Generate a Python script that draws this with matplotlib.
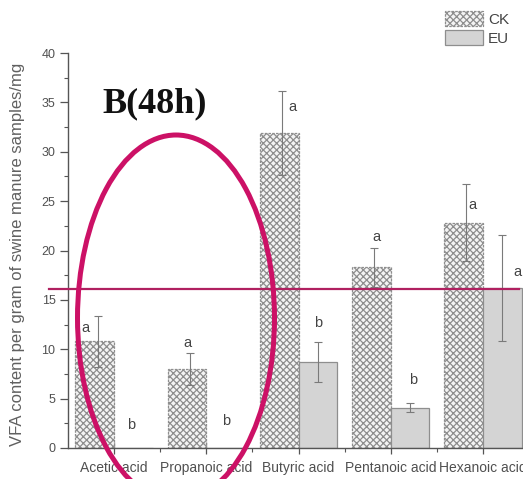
import numpy as np
import matplotlib
matplotlib.use("Agg")
import matplotlib.pyplot as plt
from matplotlib.patches import Ellipse

# data
acids = ["Acetic acid", "Propanoic acid", "Butyric acid", "Pentanoic acid", "Hexanoic acid"]
ck_mean = [10.8, 8.0, 31.9, 18.3, 22.8]
ck_err = [2.6, 1.6, 4.3, 2.0, 3.9]
eu_mean = [0.0, 0.0, 8.7, 4.1, 16.2]
eu_err = [0.0, 0.0, 2.0, 0.5, 5.4]
ck_letters = ["a", "a", "a", "a", "a"]
eu_letters = ["b", "b", "b", "b", "a"]
ck_letter_y = [12.2, 10.6, 34.5, 21.4, 24.6]
eu_letter_y = [2.3, 2.7, 12.7, 6.9, 17.8]
ref_level = 16.1

plt.rcParams['font.family'] = ['Liberation Sans', 'DejaVu Sans']

W, H = 523, 479
fig = plt.figure(figsize=(W / 100, H / 100), dpi=100)
ax = fig.add_axes([68 / W, 31 / H, 461 / W, 395 / H])

x = np.arange(1, len(acids) + 1)
bw = 0.42
plt.rcParams['hatch.linewidth'] = 0.9

ax.bar(x - bw / 2, ck_mean, bw, facecolor='#f4f4f4', edgecolor='#6a6a6a', hatch='xxxxx',
       linewidth=0.9, linestyle=(0, (2, 1)), label='CK', zorder=2)
ax.bar(x + bw / 2, eu_mean, bw, facecolor='#d4d4d4', edgecolor='#6a6a6a',
       linewidth=0.9, label='EU', zorder=2)
# hatch colour
for p in ax.patches:
    p.set_edgecolor('#8e8e8e')

ax.errorbar(x - bw / 2 + 0.03, ck_mean, yerr=ck_err, fmt='none', ecolor='#7a7a7a',
            elinewidth=0.8, capsize=3, capthick=0.8, zorder=3)
m = np.array(eu_err) > 0
ax.errorbar((x + bw / 2)[m], np.array(eu_mean)[m], yerr=np.array(eu_err)[m], fmt='none',
            ecolor='#7a7a7a', elinewidth=0.8, capsize=3, capthick=0.8, zorder=3)

ck_dx = [-0.1, 0.0, 0.14, 0.05, 0.1]
eu_dx = [-0.03, 0.01, 0.0, 0.03, 0.17]
for i in range(len(acids)):
    ax.text(x[i] - bw / 2 + ck_dx[i], ck_letter_y[i], ck_letters[i], ha='center', va='center',
            fontsize=10.5, color='#444444', zorder=4)
    ax.text(x[i] + bw / 2 + eu_dx[i], eu_letter_y[i], eu_letters[i], ha='center', va='center',
            fontsize=10.5, color='#444444', zorder=4, clip_on=False)

ax.set_xlim(0.5, 5.5)
ax.set_ylim(0, 40)
ax.set_xticks(x)
ax.set_xticklabels(acids, fontsize=10, color='#505050')
ax.set_xticks(x[:-1] + 0.5, minor=True)
ax.set_yticks(np.arange(0, 41, 5))
ax.set_yticks(np.arange(2.5, 40, 5), minor=True)
ax.tick_params(axis='y', which='major', direction='out', length=6, width=0.9,
               labelsize=9, labelcolor='#505050', color='#555555', pad=3)
ax.tick_params(axis='y', which='minor', direction='out', length=3, width=0.8, color='#555555')
ax.tick_params(axis='x', which='major', direction='inout', length=9, width=0.9,
               color='#555555', pad=5)
ax.tick_params(axis='x', which='minor', direction='out', length=3, width=0.8, color='#555555')
for s in ['top', 'right']:
    ax.spines[s].set_visible(False)
for s in ['left', 'bottom']:
    ax.spines[s].set_color('#555555')
    ax.spines[s].set_linewidth(1.0)

ax.set_ylabel('VFA content per gram of swine manure samples/mg', fontsize=12, color='#606060',
              labelpad=6)
ax.yaxis.set_label_coords(-43 / 461, 0.49)

leg = fig.legend(loc='upper left', bbox_to_anchor=(445 / W, 1 - 11 / H), frameon=False,
                 fontsize=11, handlelength=2.5, handleheight=1.1, handletextpad=0.3,
                 labelspacing=0.25, borderpad=0, borderaxespad=0)
for t in leg.get_texts():
    t.set_color('#444444')

fig.text(102 / W, 1 - 112 / H, 'B(48h)', fontsize=26, fontweight='bold',
         family='Liberation Serif', va='baseline', ha='left', color='#111111')

# highlight marks
ax.plot([0.29, 5.39], [ref_level, ref_level], color='#b02060', lw=1.6, clip_on=False, zorder=5)
ell = Ellipse((0.5 + (176 - 68) / 92.2, (448 - 318) / 9.875), 197 / 92.2, 366 / 9.875,
              fill=False, edgecolor='#cc1166', lw=3.6, clip_on=False, zorder=5)
ax.add_patch(ell)

fig.savefig('out.png', dpi=100)
